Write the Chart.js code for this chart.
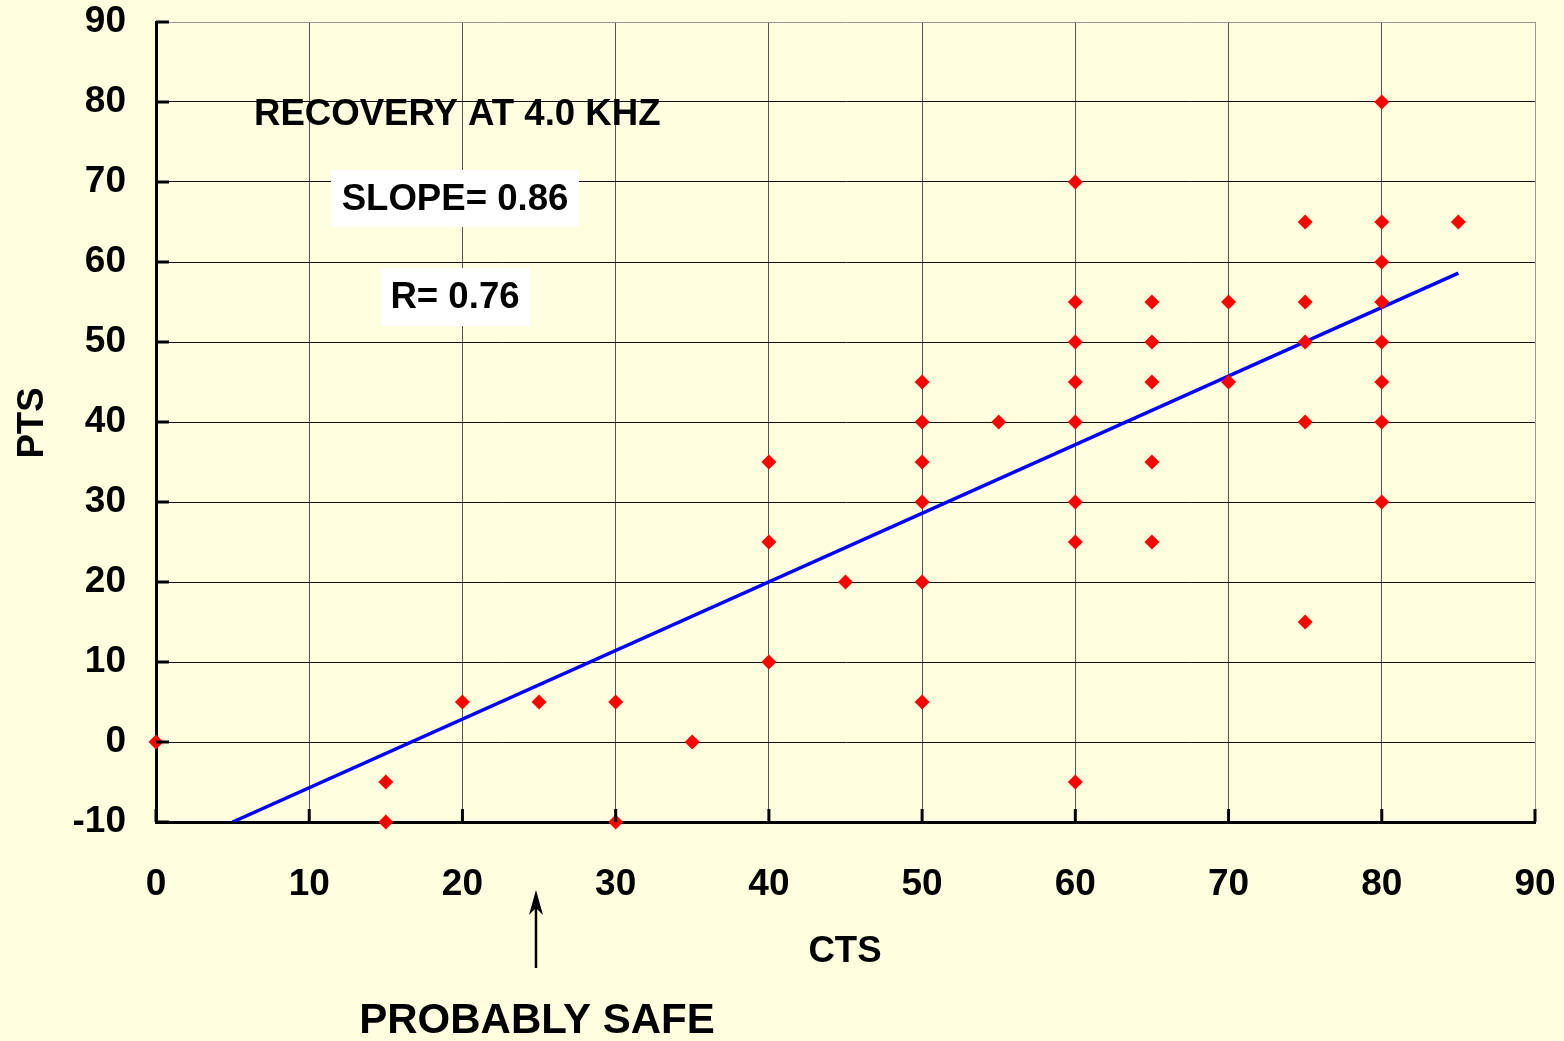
<!DOCTYPE html>
<html>
<head>
<meta charset="utf-8">
<script src="https://cdn.jsdelivr.net/npm/chart.js@4.4.1/dist/chart.umd.min.js"></script>
<style>
  html, body { margin: 0; padding: 0; background: #ffffe0; }
  #wrap { width: 1564px; height: 1041px; }
</style>
</head>
<body>
<div id="wrap"><canvas id="ptsChart" width="1564" height="1041"></canvas></div>
<script>
// data
const ctsValues = [0, 15, 15, 20, 25, 30, 30, 35, 40, 40, 40, 45,
  50, 50, 50, 50, 50, 50, 55,
  60, 60, 60, 60, 60, 60, 60, 60,
  65, 65, 65, 65, 65, 70, 70,
  75, 75, 75, 75, 75,
  80, 80, 80, 80, 80, 80, 80, 80, 85]
const ptsValues = [0, -5, -10, 5, 5, 5, -10, 0, 35, 25, 10, 20,
  45, 40, 35, 30, 20, 5, 40,
  70, 55, 50, 45, 40, 30, 25, -5,
  55, 50, 45, 35, 25, 55, 45,
  65, 55, 50, 40, 15,
  80, 65, 60, 55, 50, 45, 40, 30, 65]

// regression line ends
const fitX = [5, 85]
const fitY = [-10, 58.6]

const xTicks = [0, 10, 20, 30, 40, 50, 60, 70, 80, 90]
const yTicks = [-10, 0, 10, 20, 30, 40, 50, 60, 70, 80, 90]

const FONT = "'Liberation Sans', Arial, sans-serif"

const scatterPts = ctsValues.map((x, i) => ({ x: x, y: ptsValues[i] }))
const fitPts = fitX.map((x, i) => ({ x: x, y: fitY[i] }))

// background, inner tick marks, text notes, arrow
const extras = {
  id: "extras",
  beforeDraw(chart) {
    const c = chart.ctx
    c.save()
    c.fillStyle = "#ffffe0"
    c.fillRect(0, 0, chart.width, chart.height)
    c.restore()
  },
  afterDraw(chart) {
    const c = chart.ctx
    const xs = chart.scales.x
    const ys = chart.scales.y
    const area = chart.chartArea
    c.save()
    // tick marks pointing in
    c.strokeStyle = "#000"
    c.lineWidth = 3
    xTicks.forEach(v => {
      const px = xs.getPixelForValue(v)
      c.beginPath()
      c.moveTo(px, area.bottom)
      c.lineTo(px, area.bottom - 13)
      c.stroke()
    })
    yTicks.forEach(v => {
      const py = ys.getPixelForValue(v)
      c.beginPath()
      c.moveTo(area.left, py)
      c.lineTo(area.left + 13, py)
      c.stroke()
    })

    c.fillStyle = "#000"
    c.textBaseline = "middle"
    c.font = "bold 36.6px " + FONT
    c.textAlign = "left"
    c.fillText("RECOVERY AT 4.0 KHZ", 254, 115)

    // white boxed notes
    c.fillStyle = "#fff"
    c.fillRect(331, 170, 248, 57)
    c.fillRect(381, 268, 149, 58)
    c.fillStyle = "#000"
    c.textAlign = "center"
    c.fillText("SLOPE= 0.86", 455, 200)
    c.fillText("R= 0.76", 455, 298)

    // axis titles
    c.fillText("CTS", 845, 952)
    c.save()
    c.translate(33, 423)
    c.rotate(-Math.PI / 2)
    c.fillText("PTS", 0, 0)
    c.restore()

    // arrow + note
    const ax = xs.getPixelForValue(24.8)
    c.lineWidth = 2.5
    c.beginPath()
    c.moveTo(ax, 968)
    c.lineTo(ax, 900)
    c.stroke()
    c.beginPath()
    c.moveTo(ax, 890)
    c.lineTo(ax - 7, 915)
    c.lineTo(ax, 908)
    c.lineTo(ax + 7, 915)
    c.closePath()
    c.fill()
    c.font = "bold 42px " + FONT
    c.fillText("PROBABLY SAFE", 537, 1021)
    c.restore()
  }
}

const config = {
  type: "scatter",
  data: {
    datasets: [
      {
        label: "fit",
        type: "line",
        data: fitPts,
        borderColor: "#0000ff",
        borderWidth: 3.5,
        pointRadius: 0,
        fill: false,
        order: 2,
      },
      {
        label: "PTS vs CTS",
        data: scatterPts,
        pointStyle: "rectRot",
        pointRadius: 7.5,
        pointHoverRadius: 7.5,
        backgroundColor: "#ff0000",
        borderColor: "#ff0000",
        borderWidth: 0,
        clip: false,
        order: 1,
      },
    ],
  },
  options: {
    responsive: false,
    animation: false,
    events: [],
    layout: { padding: { top: 22, right: 29, left: 0, bottom: 0 } },
    plugins: {
      legend: { display: false },
      tooltip: { enabled: false },
    },
    scales: {
      x: {
        type: "linear",
        min: 0,
        max: 90,
        afterBuildTicks: s => { s.ticks = xTicks.map(v => ({ value: v })) },
        afterFit: s => {
          s.height = 219
          s.paddingLeft = 0
          s.paddingRight = 0
        },
        grid: {
          drawTicks: false,
          lineWidth: 1,
          color: ctx => (ctx.tick && ctx.tick.value === 90 ? "#999" : "#555"),
        },
        border: { display: true, color: "#000", width: 3 },
        ticks: {
          padding: 41,
          color: "#000",
          font: { family: FONT, size: 37, weight: "bold" },
        },
      },
      y: {
        type: "linear",
        min: -10,
        max: 90,
        afterBuildTicks: s => { s.ticks = yTicks.map(v => ({ value: v })) },
        afterFit: s => {
          s.width = 156
          s.paddingTop = 0
          s.paddingBottom = 0
        },
        grid: {
          drawTicks: false,
          lineWidth: 1,
          color: ctx => (ctx.tick && ctx.tick.value === 90 ? "#999" : "#111"),
        },
        border: { display: true, color: "#000", width: 3 },
        ticks: {
          padding: 30,
          color: "#000",
          font: { family: FONT, size: 37, weight: "bold" },
        },
      },
    },
  },
  plugins: [extras],
}

const myChart = new Chart(document.getElementById("ptsChart"), config)
</script>
</body>
</html>
